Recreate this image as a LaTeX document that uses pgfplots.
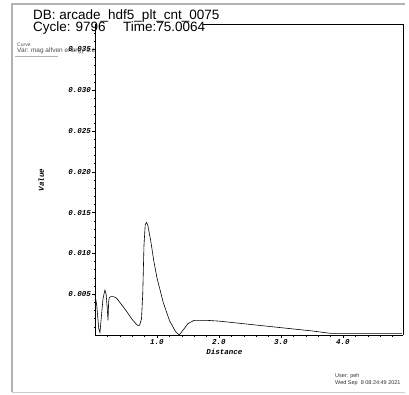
\documentclass[border=0pt]{standalone}
\usepackage{pgfplots}
\pgfplotsset{compat=1.18}
\usepackage{fontspec}
\setmainfont{Liberation Sans}
\newfontfamily\monof{Liberation Mono}
\begin{document}
\begin{tikzpicture}[x=1pt,y=1pt]
\path[use as bounding box, fill=white] (0,0) rectangle (409,394);
\draw[black!30, line width=1.5pt] (12,2) -- (12,390) -- (405,390);
\draw[black!20, line width=1pt] (12,2) -- (405,2);
\begin{axis}[
  at={(95pt,59pt)}, anchor=south west,
  scale only axis, width=308pt, height=311pt,
  xmin=0, xmax=4.968, ymin=0, ymax=0.03811,
  axis x line*=bottom, axis y line*=left,
  axis line style={black, line width=0.6pt},
  xtick={1,2,3,4}, xticklabels={1.0,2.0,3.0,4.0},
  minor xtick={0.2,0.4,0.6,0.8,1.2,1.4,1.6,1.8,2.2,2.4,2.6,2.8,3.2,3.4,3.6,3.8,4.2,4.4,4.6,4.8},
  ytick={0.005,0.010,0.015,0.020,0.025,0.030,0.035},
  yticklabels={0.005,0.010,0.015,0.020,0.025,0.030,0.035},
  minor ytick={0.001,0.002,0.003,0.004,0.006,0.007,0.008,0.009,0.011,0.012,0.013,0.014,0.016,0.017,0.018,0.019,0.021,0.022,0.023,0.024,0.026,0.027,0.028,0.029,0.031,0.032,0.033,0.034,0.036,0.037},
  tick align=outside,
  major tick length=3pt, minor tick length=1.5pt,
  tick style={black, line width=0.5pt},
  scaled y ticks=false,
  ticklabel style={font=\monof\bfseries\itshape\fontsize{7.5}{8}\selectfont, inner sep=1pt},
  xlabel={Distance}, ylabel={Value},
  label style={font=\monof\bfseries\itshape\fontsize{7.5}{8}\selectfont},
  xlabel style={at={(axis description cs:0.42,-0.055)}, anchor=center},
  ylabel style={at={(axis description cs:-0.175,0.498)}, anchor=center, rotate=0},
  clip=false,
]
\addplot[black, line width=0.6pt] coordinates {
(0.00,0.0050) (0.03,0.0035) (0.06,0.0008) (0.08,0.0003) (0.10,0.0020)
(0.13,0.0045) (0.16,0.0055) (0.18,0.0050) (0.20,0.0030) (0.21,0.0018)
(0.22,0.0040) (0.23,0.0046) (0.26,0.0047) (0.30,0.0047) (0.35,0.0045)
(0.40,0.0040) (0.50,0.0030) (0.60,0.0019) (0.68,0.0012) (0.72,0.0012)
(0.75,0.0020) (0.77,0.0050) (0.79,0.0110) (0.81,0.0135) (0.83,0.0138)
(0.85,0.0135) (0.90,0.0115) (0.95,0.0090) (1.00,0.0070) (1.10,0.0040)
(1.20,0.0018) (1.30,0.0004) (1.36,0.0000) (1.42,0.0006) (1.50,0.0014)
(1.60,0.0018) (1.80,0.0018) (2.00,0.0017) (2.50,0.0013) (3.00,0.0009)
(3.50,0.0005) (3.80,0.0002) (4.00,0.0002) (4.50,0.0002) (4.95,0.0002)
};
\end{axis}
\draw[black, line width=0.6pt] (203,370) -- (403,370) -- (403,59);
\node[anchor=base west, inner sep=0, font=\fontsize{13.5}{14}\selectfont] at (33,374) {DB: arcade\_hdf5\_plt\_cnt\_0075};
\node[anchor=base west, inner sep=0, font=\fontsize{13.5}{14}\selectfont] at (33,362) {Cycle: 9796};
\node[anchor=base west, inner sep=0, font=\fontsize{13.5}{14}\selectfont] at (123,362) {Time:75.0064};
\node[anchor=base west, inner sep=0, font=\fontsize{5}{5}\selectfont, text=black!70] at (17,347) {Curve};
\node[anchor=base west, inner sep=0, font=\fontsize{6.5}{6.5}\selectfont, text=black!70] at (17,341) {Var: mag alfven energy 1.e};
\draw[black!30, line width=0.8pt] (15,338) -- (58,338);
\node[anchor=base west, inner sep=0, font=\fontsize{5.5}{5.5}\selectfont, text=black!80] at (335,17) {User: peh};
\node[anchor=base west, inner sep=0, font=\fontsize{5.5}{5.5}\selectfont, text=black!80] at (335,10) {Wed Sep\ \ 8 08:24:49 2021};
\end{tikzpicture}
\end{document}
